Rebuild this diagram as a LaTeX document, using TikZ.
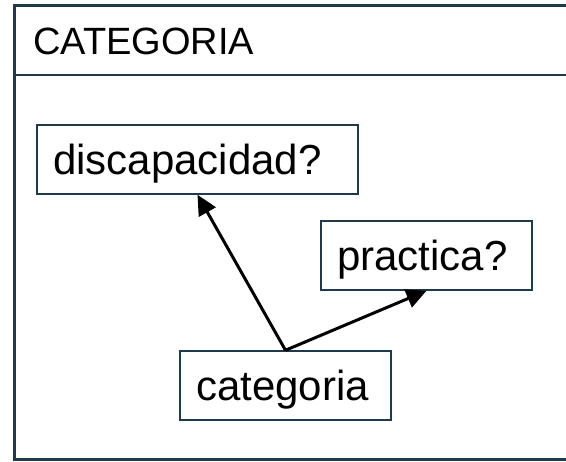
\documentclass[tikz,border=0pt]{standalone}
\usepackage{fontspec}
\setmainfont{Liberation Sans}
\usetikzlibrary{arrows.meta}
\definecolor{marco}{HTML}{1F3A4D}
\tikzset{
  caja/.style={draw=marco, line width=1.5pt, fill=white, inner xsep=16pt, inner ysep=0pt,
    align=left, minimum height=69pt, text height=33pt, text depth=2pt,
    font=\fontsize{42}{50}\selectfont},
  flecha/.style={-{Triangle[length=20pt,width=19pt]}, line width=3pt, black}
}
\begin{document}
\begin{tikzpicture}[x=1pt,y=-1pt]
    \useasboundingbox (0,0) rectangle (566,462);
    \draw[marco, line width=3pt] (570,5.5) -- (14,5.5) -- (14,460) -- (570,460);
    \draw[marco, line width=2pt] (14,75) -- (570,75);
    \node[anchor=base west, inner sep=0pt, font=\fontsize{38}{46}\selectfont] (titulo) at (33,55) {CATEGORIA};
    \node[caja, text width=289pt] (disc) at (197.5,159.5) {discapacidad?};
    \node[caja, text width=179pt] (prac) at (426.5,255.5) {practica?};
    \node[caja, text width=179pt] (cat) at (285.5,385.5) {categoria};
    \draw[flecha] (cat.north) -- (disc.south);
    \draw[flecha] (cat.north) -- (prac.south);
\end{tikzpicture}
\end{document}
